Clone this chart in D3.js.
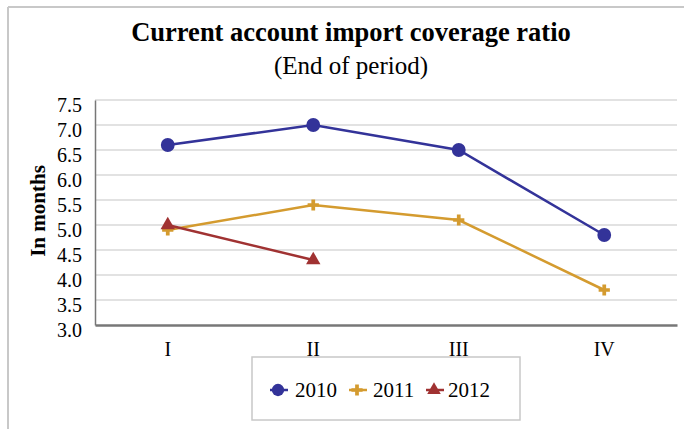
<!DOCTYPE html>
<html><head><meta charset="utf-8">
<script src="https://cdn.jsdelivr.net/npm/d3@7"></script>
<style>body{margin:0;background:#fff}svg{display:block}text{font-family:"Liberation Serif","Times New Roman",serif;fill:#000}</style>
</head><body><svg id="c" width="684" height="429"></svg>
<script>
const categories = ["I","II","III","IV"];
const seriesNames = ["2010","2011","2012"];
const values2010 = [6.6, 7.0, 6.5, 4.8];
const values2011 = [4.9, 5.4, 5.1, 3.7];
const values2012 = [5.0, 4.3];
const yTicks = [3.0,3.5,4.0,4.5,5.0,5.5,6.0,6.5,7.0,7.5];
const colors = ["#333399","#D49B2F","#A03232"];
const symbols = [d3.symbolCircle, d3.symbolCross, d3.symbolTriangle];

const svg = d3.select("#c");
svg.append("line").attr("x1",8).attr("x2",8).attr("y1",7).attr("y2",429).attr("stroke","#c8c8c8").attr("stroke-width",2);
svg.append("line").attr("x1",8).attr("x2",684).attr("y1",7).attr("y2",7).attr("stroke","#c8c8c8").attr("stroke-width",2);

const L=95,R=677,T=100,B=325;
const x = d3.scaleBand().domain(categories).range([L,R]);
const y = d3.scaleLinear().domain([3,7.5]).range([B,T]);

svg.append("text").attr("x",351).attr("y",41).attr("text-anchor","middle").attr("font-size",26.5).attr("font-weight","bold").text("Current account import coverage ratio");
svg.append("text").attr("x",351).attr("y",74).attr("text-anchor","middle").attr("font-size",25).text("(End of period)");

svg.append("g").selectAll("line").data(yTicks.slice(1)).join("line")
  .attr("x1",L).attr("x2",R).attr("y1",d=>y(d)).attr("y2",d=>y(d)).attr("stroke","#d9d9d9").attr("stroke-width",1.5);

const ya = svg.append("g").attr("transform",`translate(${L},0)`).call(d3.axisLeft(y).tickValues(yTicks).tickFormat(d3.format(".1f")).tickSize(0).tickPadding(13));
ya.select(".domain").attr("stroke","#777").attr("stroke-width",1.5);
ya.selectAll("text").attr("font-size",20).attr("font-family","Liberation Serif, serif").attr("dy","0.55em");

const xa = svg.append("g").attr("transform",`translate(0,${B})`).call(d3.axisBottom(x).tickSize(0).tickPadding(17));
xa.select(".domain").attr("stroke","#777").attr("stroke-width",2.5);
xa.selectAll("text").attr("font-size",20).attr("font-family","Liberation Serif, serif");

svg.append("text").attr("transform","translate(45,211) rotate(-90)").attr("text-anchor","middle").attr("font-size",21).attr("font-weight","bold").text("In months");

const allSeries = [values2010, values2011, values2012];
const line = d3.line().x((d,i)=>x(categories[i])+x.bandwidth()/2).y(d=>y(d));
allSeries.forEach((vals,si)=>{
  const g = svg.append("g");
  g.append("path").attr("d",line(vals)).attr("fill","none").attr("stroke",colors[si]).attr("stroke-width",2.5);
  g.selectAll("path.m").data(vals).join("path").attr("class","m")
    .attr("transform",(d,i)=>`translate(${x(categories[i])+x.bandwidth()/2},${y(d)})`)
    .attr("d",d3.symbol().type(symbols[si]).size(si===0?150:(si===1?70:90)))
    .attr("fill",colors[si]);
});

svg.append("rect").attr("x",252).attr("y",357).attr("width",268).attr("height",63).attr("fill","#fff").attr("stroke","#c8c8c8").attr("stroke-width",1.5);
const lx = [278, 357, 434];
seriesNames.forEach((n,i)=>{
  const g = svg.append("g").attr("transform",`translate(${lx[i]},390)`);
  g.append("line").attr("x1",-8).attr("x2",10).attr("stroke",colors[i]).attr("stroke-width",2.5);
  g.append("path").attr("d",d3.symbol().type(symbols[i]).size(i===0?120:(i===1?70:80))).attr("fill",colors[i]);
  g.append("text").attr("x",i===0?17:(i===1?16:14)).attr("y",7).attr("font-size",21).text(n);
});
</script></body></html>
